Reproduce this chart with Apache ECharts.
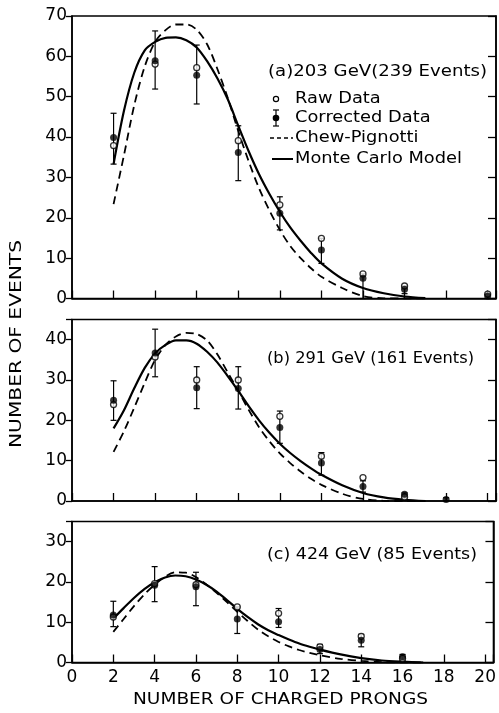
<!DOCTYPE html>
<html>
<head>
<meta charset="utf-8">
<script src="https://cdn.jsdelivr.net/npm/echarts@6/dist/echarts.min.js"></script>
<style>
  html, body { margin: 0; padding: 0; background: #fff; }
  #main { width: 499px; height: 713px; }
</style>
</head>
<body>
<div id="main"></div>
<script>
const curveX = [2, 2.5, 3, 3.5, 4, 4.5, 5, 5.5, 6, 6.5, 7, 7.5, 8, 8.5, 9, 9.5, 10, 10.5, 11, 11.5, 12, 13, 14, 15, 16, 17]

// (a) 203 GeV
const monteA = [33.3, 46.5, 56, 61.5, 63.6, 64.6, 64.7, 64, 62.2, 58.8, 54.5, 49.3, 42.8, 36.5, 30.8, 25.9, 21.5, 17.6, 14.3, 11.3, 8.7, 4.9, 2.6, 1.3, 0.5, 0.1]
const chewA = [23.4, 35.5, 48, 57.5, 63.6, 66.5, 67.9, 67.9, 66.6, 63, 56.8, 49.6, 41.5, 34, 27.3, 21.8, 17, 13, 10, 7.5, 5.4, 2.6, 0.6, 0.05, 0, 0]
const pointXA = [2, 4, 6, 8, 10, 12, 14, 16, 20]
const rawA = [37.9, 58.1, 57.2, 39.1, 23.2, 14.9, 6.1, 3.1, 1.1]
const corrA = [39.9, 58.9, 55.3, 36.2, 21.1, 12.0, 5.0, 2.3, 0.6]
const errLoA = [33.3, 51.9, 48.2, 29.2, 17.0, 8.7, 0, 1.2, 0]
const errHiA = [45.9, 66.3, 62.8, 42.8, 25.2, 14.9, 6.1, 3.1, 1.0]

// (b) 291 GeV
const monteB = [18, 22.5, 28, 33, 36.6, 38.7, 39.8, 39.8, 39, 37, 34.3, 30.9, 27.3, 23.5, 20, 16.9, 14.2, 11.9, 9.9, 8.1, 6.5, 3.9, 2, 0.9, 0.3, 0]
const chewB = [12.2, 17.3, 23.2, 29.3, 35, 38.7, 40.8, 41.7, 41.4, 39.8, 36.3, 31.8, 27.3, 22.6, 18.3, 14.8, 11.8, 9.4, 7.3, 5.5, 4, 1.8, 0.5, 0.05, 0, 0]
const pointXB = [2, 4, 6, 8, 10, 12, 14, 16, 18]
const rawB = [23.9, 35.7, 30, 30, 21, 11.1, 5.8, 1.0, '-']
const corrB = [25, 36.7, 28.1, 27.9, 18.2, 9.4, 3.6, 1.7, 0.4]
const errLoB = [20, 30.8, 22.9, 22.8, 14.3, 6.4, 2.2, 0.8, 0]
const errHiB = [29.8, 42.6, 33.3, 33.3, 22.3, 12, 5, 2, 0.8]

// (c) 424 GeV
const monteC = [10.9, 13.5, 16, 18.2, 19.9, 21.1, 21.6, 21.4, 20.6, 19.3, 17.6, 15.5, 13.3, 11.3, 9.5, 8, 6.8, 5.7, 4.7, 3.9, 3.2, 2, 1.1, 0.5, 0.2, 0]
const chewC = [7.6, 10.8, 14, 16.9, 19.3, 21.3, 22.4, 22.3, 21.2, 19.4, 17.3, 15, 12.6, 10.3, 8.2, 6.5, 5.1, 4, 3.1, 2.4, 1.8, 0.9, 0.4, 0.1, 0, 0]
const pointXC = [2, 4, 6, 8, 10, 12, 14, 16]
const rawC = [11.3, 19.6, 19.3, 13.8, 12.2, 3.9, 6.5, 1.0]
const corrC = [11.8, 19.2, 18.8, 10.8, 10.1, 3.2, 5.5, 1.4]
const errLoC = [8.9, 15.1, 14.1, 7.2, 8.7, 2.2, 3.9, 0.5]
const errHiC = [15.2, 23.8, 22.4, 13.8, 13.4, 4.5, 7, 2]

const yMax = [70, 45, 35]
const panelTitles = ['(a)203 GeV(239 Events)', '(b) 291 GeV (161 Events)', '(c) 424 GeV (85 Events)']
const legendNames = ['Raw Data', 'Corrected Data', 'Chew-Pignotti', 'Monte Carlo Model']

const FONT = '"DejaVu Sans", sans-serif'
const grids = [
  { left: 72, width: 424, top: 16, height: 282.5 },
  { left: 72, width: 424, top: 319.5, height: 181.5 },
  { left: 72, width: 424, top: 521.5, height: 141 }
]

// stretch helper: the printed lettering is much wider than DejaVu
const ctx = document.createElement('canvas').getContext('2d')
function fitScale(text, size, target) {
  ctx.font = size + 'px "DejaVu Sans"'
  return target / ctx.measureText(text).width
}

function zip(xs, ys) {
  return xs.map((x, i) => [x, ys[i]])
}

function errorBars(idx, xs, lo, hi) {
  return {
    type: 'custom',
    xAxisIndex: idx,
    yAxisIndex: idx,
    z: 3,
    silent: true,
    data: xs.map((x, i) => [x, lo[i], hi[i]]),
    renderItem: (params, api) => {
      const a = api.coord([api.value(0), api.value(1)])
      const b = api.coord([api.value(0), api.value(2)])
      const w = 3
      const st = { stroke: '#000', lineWidth: 1.2 }
      return {
        type: 'group',
        children: [
          { type: 'line', shape: { x1: a[0], y1: a[1], x2: b[0], y2: b[1] }, style: st },
          { type: 'line', shape: { x1: b[0] - w, y1: b[1], x2: b[0] + w, y2: b[1] }, style: st },
          { type: 'line', shape: { x1: a[0] - w, y1: a[1], x2: a[0] + w, y2: a[1] }, style: st }
        ]
      }
    }
  }
}

function panelSeries(idx, monte, chew, px, raw, corr, lo, hi) {
  return [
    {
      type: 'line', xAxisIndex: idx, yAxisIndex: idx, z: 2,
      data: zip(curveX, monte), smooth: 0.3, showSymbol: false,
      lineStyle: { color: '#000', width: 2.2 }
    },
    {
      type: 'line', xAxisIndex: idx, yAxisIndex: idx, z: 2,
      data: zip(curveX, chew), smooth: 0.3, showSymbol: false,
      lineStyle: { color: '#000', width: 1.8, type: [8, 5] }
    },
    errorBars(idx, px, lo, hi),
    {
      type: 'scatter', xAxisIndex: idx, yAxisIndex: idx, z: 4,
      data: zip(px, raw), symbol: 'circle', symbolSize: 6,
      itemStyle: { color: '#fff', borderColor: '#000', borderWidth: 1.3 }
    },
    {
      type: 'scatter', xAxisIndex: idx, yAxisIndex: idx, z: 5,
      data: zip(px, corr), symbol: 'circle', symbolSize: 7,
      itemStyle: { color: '#000' }
    }
  ]
}

const xAxes = grids.map((g, i) => ({
  type: 'value', gridIndex: i, min: 0, max: 20.4, interval: 2,
  axisLine: { lineStyle: { color: '#000', width: 1.5 } },
  axisTick: { inside: true, length: 8, lineStyle: { color: '#000', width: 1.3 } },
  axisLabel: {
    show: i === 2, margin: 7, color: '#000', fontSize: 17, fontFamily: FONT,
    formatter: v => (v % 2 === 0 ? v : '')
  },
  splitLine: { show: false }
}))

const leftY = grids.map((g, i) => ({
  type: 'value', gridIndex: i, min: 0, max: yMax[i], interval: 10,
  axisLine: { show: true, lineStyle: { color: '#000', width: 1.5 } },
  axisTick: { show: true, inside: false, length: 6, lineStyle: { color: '#000', width: 1.3 } },
  axisLabel: {
    margin: 5, color: '#000', fontSize: 17, fontFamily: FONT,
    formatter: v => (v % 10 === 0 ? v : '')
  },
  splitLine: { show: false }
}))

const rightY = grids.map((g, i) => ({
  type: 'value', gridIndex: i, position: 'right', min: 0, max: yMax[i], interval: 10,
  axisLine: { show: true, lineStyle: { color: '#000', width: 1.5 } },
  axisTick: { show: true, inside: true, length: 8, lineStyle: { color: '#000', width: 1.3 } },
  axisLabel: { show: false },
  splitLine: { show: false }
}))

// texts: panel labels, legend, axis names
const titleBox = [
  { x: 268, y: 72, w: 219 },
  { x: 267, y: 359, w: 207 },
  { x: 267, y: 555, w: 210 }
]
const texts = panelTitles.map((t, i) => ({
  type: 'text', x: titleBox[i].x, y: titleBox[i].y,
  scaleX: fitScale(t, 15, titleBox[i].w),
  style: { text: t, fontSize: 15, fontFamily: FONT, fill: '#000', textAlign: 'left', textVerticalAlign: 'middle' }
}))

const legendScale = fitScale(legendNames[3], 15, 167)
const legendY = [99, 118, 138, 159]
legendNames.forEach((n, i) => {
  texts.push({
    type: 'text', x: 295, y: legendY[i], scaleX: legendScale,
    style: { text: n, fontSize: 15, fontFamily: FONT, fill: '#000', textAlign: 'left', textVerticalAlign: 'middle' }
  })
})
const legendIcons = [
  { type: 'circle', shape: { cx: 276, cy: 99, r: 2.6 }, style: { fill: '#fff', stroke: '#000', lineWidth: 1.2 } },
  { type: 'line', shape: { x1: 276, y1: 110, x2: 276, y2: 126 }, style: { stroke: '#000', lineWidth: 1.2 } },
  { type: 'line', shape: { x1: 273, y1: 110, x2: 279, y2: 110 }, style: { stroke: '#000', lineWidth: 1.2 } },
  { type: 'line', shape: { x1: 273, y1: 126, x2: 279, y2: 126 }, style: { stroke: '#000', lineWidth: 1.2 } },
  { type: 'circle', shape: { cx: 276, cy: 118, r: 3.3 }, style: { fill: '#000' } },
  { type: 'line', shape: { x1: 270, y1: 138, x2: 293, y2: 138 }, style: { stroke: '#000', lineWidth: 1.6, lineDash: [4, 3] } },
  { type: 'line', shape: { x1: 272, y1: 159, x2: 293, y2: 159 }, style: { stroke: '#000', lineWidth: 2 } }
]

const yName = 'NUMBER OF EVENTS'
const xName = 'NUMBER OF CHARGED PRONGS'
texts.push({
  type: 'text', x: 17, y: 344, rotation: Math.PI / 2,
  scaleX: fitScale(yName, 15, 208),
  style: { text: yName, fontSize: 15, fontFamily: FONT, fill: '#000', textAlign: 'center', textVerticalAlign: 'middle' }
})
texts.push({
  type: 'text', x: 133, y: 700,
  scaleX: fitScale(xName, 15, 295),
  style: { text: xName, fontSize: 15, fontFamily: FONT, fill: '#000', textAlign: 'left', textVerticalAlign: 'middle' }
})

const chart = echarts.init(document.getElementById('main'), null, { renderer: 'canvas' })
chart.setOption({
  animation: false,
  backgroundColor: '#fff',
  grid: grids.map(g => Object.assign({ show: true, borderColor: '#000', borderWidth: 1.5, containLabel: false }, g)),
  xAxis: xAxes,
  yAxis: leftY.concat(rightY),
  series: [].concat(
    panelSeries(0, monteA, chewA, pointXA, rawA, corrA, errLoA, errHiA),
    panelSeries(1, monteB, chewB, pointXB, rawB, corrB, errLoB, errHiB),
    panelSeries(2, monteC, chewC, pointXC, rawC, corrC, errLoC, errHiC)
  ),
  graphic: texts.concat(legendIcons)
})
</script>
</body>
</html>
